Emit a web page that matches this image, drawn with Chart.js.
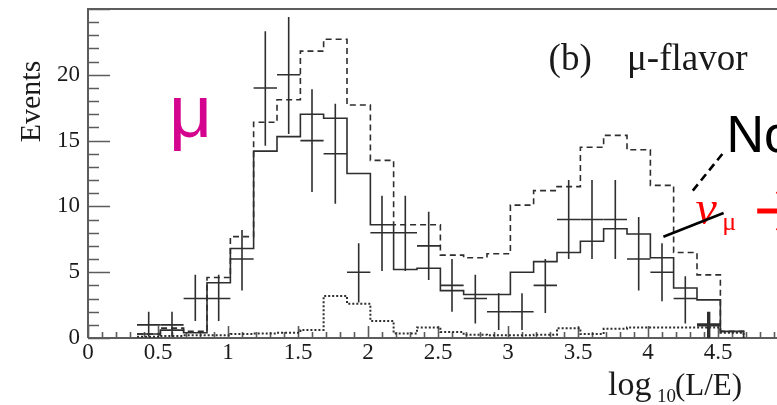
<!DOCTYPE html>
<html>
<head>
<meta charset="utf-8">
<script src="https://cdn.jsdelivr.net/npm/chart.js@4.4.1/dist/chart.umd.min.js"></script>
<style>
  html, body { margin: 0; padding: 0; background: #fff; overflow: hidden; }
  #wrap { position: relative; width: 800px; height: 405px; }
</style>
</head>
<body>
<div id="wrap"><canvas id="c" width="800" height="405"></canvas></div>
<script>
// log10(L/E) bin edges (width 1/6)
const binEdges = [0.35, 0.517, 0.683, 0.85, 1.017, 1.183, 1.35, 1.517, 1.683, 1.85,
  2.017, 2.183, 2.35, 2.517, 2.683, 2.85, 3.017, 3.183, 3.35, 3.517, 3.683, 3.85,
  4.017, 4.183, 4.35, 4.517, 4.683];

// Observed events per bin, with the ends of the error bars
const dataCounts = [1, 1, 3, 3, 6, 19, 20, 15, 14, 5, 8, 8, 7, 4, 3, 2, 2, 4, 9, 9, 9, 6, 5, 3, 1];
const dataHigh = [2.0, 2.0, 4.8, 4.8, 8.2, 23.3, 24.4, 18.9, 17.8, 7.2, 10.8, 10.8, 9.6, 6.0,
  4.8, 3.4, 3.4, 6.0, 12.0, 12.0, 12.0, 9.2, 7.2, 4.7, 2.0];
const dataLow = [0.1, 0.1, 1.3, 1.3, 3.6, 14.6, 15.5, 11.1, 10.2, 2.7, 5.1, 5.1, 4.4, 2.0,
  1.1, 0.6, 0.6, 1.9, 6.0, 6.0, 6.0, 3.6, 2.8, 1.1, 0.0];

// Expectation with oscillation (solid)
const oscExpected = [0.3, 0.6, 0.4, 4.2, 6.8, 14.2, 15.3, 17.0, 16.7, 12.5, 8.6, 5.2, 5.3,
  3.6, 3.3, 3.3, 5.0, 5.8, 6.5, 7.35, 8.3, 7.9, 6.1, 3.8, 2.9, 0.5];
// Expectation without oscillation (dashed)
const noOscExpected = [0.3, 0.75, 0.5, 4.6, 7.7, 16.4, 18.1, 21.8, 22.7, 17.7, 13.5, 8.6, 8.6,
  6.3, 6.1, 6.4, 10.1, 11.2, 11.5, 14.5, 15.4, 14.3, 11.6, 6.5, 4.8, 0.5];
// Background component (dotted)
const background = [0.1, 0.15, 0.2, 0.2, 0.3, 0.35, 0.4, 0.6, 3.2, 2.6, 1.3, 0.35, 0.8,
  0.45, 0.25, 0.2, 0.2, 0.25, 0.75, 0.3, 0.7, 0.8, 0.8, 0.8, 0.8, 0.4];

// Axis ticks
const xTicks = [0, 0.5, 1, 1.5, 2, 2.5, 3, 3.5, 4, 4.5, 5];
const xTickLabels = ["0", "0.5", "1", "1.5", "2", "2.5", "3", "3.5", "4", "4.5", "5"];
const yTicks = [0, 5, 10, 15, 20];
const yTickLabels = ["0", "5", "10", "15", "20"];

const INK = '#2e2e2e';
const FRAME = '#5c5c5c';
const emphasisIndex = 24;   // last data cross drawn heavier

function histPoints(vals) {
  const pts = vals.map((v, i) => ({ x: binEdges[i], y: v }));
  pts.push({ x: binEdges[vals.length], y: 0 });
  return pts;
}

const decorations = {
  id: 'decorations',
  beforeDatasetsDraw(chart) {
    const { ctx, chartArea: a, scales: { x, y } } = chart;
    ctx.save();
    ctx.strokeStyle = FRAME;
    ctx.lineWidth = 2;
    ctx.beginPath();
    ctx.moveTo(a.left, a.bottom); ctx.lineTo(a.left, a.top);
    ctx.lineTo(a.right, a.top); ctx.lineTo(a.right, a.bottom);
    ctx.lineTo(a.left, a.bottom);
    ctx.stroke();
    // inward tick marks
    ctx.lineWidth = 1.6;
    ctx.beginPath();
    for (let k = 0; k <= 25; k++) {
      const py = Math.round(y.getPixelForValue(k)) + 0.5;
      const len = (k % 5 === 0) ? 22 : 11;
      ctx.moveTo(a.left, py); ctx.lineTo(a.left + len, py);
    }
    for (let k = 0; k <= 50; k++) {
      const px = Math.round(x.getPixelForValue(k / 10)) + 0.5;
      const len = (k % 5 === 0) ? 12 : 6;
      ctx.moveTo(px, a.bottom); ctx.lineTo(px, a.bottom - len);
    }
    ctx.stroke();
    ctx.restore();
  },
  afterDatasetsDraw(chart) {
    const { ctx, chartArea: a, scales: { x, y } } = chart;
    ctx.save();
    ctx.strokeStyle = INK;
    // data crosses
    dataCounts.forEach((n, i) => {
      const x0 = x.getPixelForValue(binEdges[i]);
      const x1 = x.getPixelForValue(binEdges[i + 1]);
      const xc = (x0 + x1) / 2;
      ctx.lineWidth = (i === emphasisIndex) ? 3.4 : 1.6;
      ctx.beginPath();
      ctx.moveTo(x0, y.getPixelForValue(n)); ctx.lineTo(x1, y.getPixelForValue(n));
      ctx.moveTo(xc, y.getPixelForValue(dataHigh[i])); ctx.lineTo(xc, y.getPixelForValue(dataLow[i]));
      ctx.stroke();
    });

    // panel label
    ctx.fillStyle = '#1a1a1a';
    ctx.textBaseline = 'alphabetic';
    ctx.textAlign = 'left';
    ctx.font = '37px "Liberation Serif"';
    ctx.fillText('(b)', x.getPixelForValue(3.29), y.getPixelForValue(20.4));
    ctx.fillText('\u03bc-flavor', x.getPixelForValue(3.85), y.getPixelForValue(20.4));

    // magenta mu
    ctx.fillStyle = '#d4048f';
    ctx.font = '75px "Liberation Sans"';
    ctx.fillText('\u03bc', x.getPixelForValue(0.578), y.getPixelForValue(15.3));

    // "No ..." callout
    ctx.fillStyle = '#000';
    ctx.font = '52px "Liberation Sans"';
    ctx.fillText('No', x.getPixelForValue(4.56), y.getPixelForValue(14.1));

    ctx.fillStyle = '#ff0000';
    ctx.font = 'italic 48px "Liberation Serif"';
    ctx.fillText('\u03bd', x.getPixelForValue(4.34), y.getPixelForValue(8.7));
    ctx.font = '26px "Liberation Serif"';
    ctx.fillText('\u03bc', x.getPixelForValue(4.53), y.getPixelForValue(8.2));

    // red arrow
    ctx.strokeStyle = '#ff0000';
    ctx.lineWidth = 5;
    const ay = y.getPixelForValue(9.65);
    const ax0 = x.getPixelForValue(4.78), ax1 = x.getPixelForValue(5.07);
    const ahx = x.getPixelForValue(4.925);
    ctx.beginPath();
    ctx.moveTo(ax0, ay); ctx.lineTo(ax1, ay);
    ctx.moveTo(ahx, ay - 20); ctx.lineTo(ax1, ay); ctx.lineTo(ahx, ay + 20);
    ctx.stroke();

    // pointer lines
    ctx.strokeStyle = '#000';
    ctx.lineWidth = 2.6;
    ctx.setLineDash([8, 5]);
    ctx.beginPath();
    ctx.moveTo(x.getPixelForValue(4.32), y.getPixelForValue(11.2));
    ctx.lineTo(x.getPixelForValue(4.54), y.getPixelForValue(14.1));
    ctx.stroke();
    ctx.setLineDash([]);
    ctx.beginPath();
    ctx.moveTo(x.getPixelForValue(4.11), y.getPixelForValue(7.7));
    ctx.lineTo(x.getPixelForValue(4.54), y.getPixelForValue(9.5));
    ctx.stroke();

    // axis titles
    ctx.fillStyle = '#1a1a1a';
    ctx.textBaseline = 'middle';
    ctx.textAlign = 'center';
    ctx.font = '30px "Liberation Serif"';
    ctx.save();
    ctx.translate(a.left - 56, (a.top + a.bottom) / 2 - 72);
    ctx.rotate(-Math.PI / 2);
    ctx.fillText('Events', 0, 0);
    ctx.restore();

    ctx.textAlign = 'left';
    ctx.textBaseline = 'alphabetic';
    ctx.font = '34px "Liberation Serif"';
    const tx = a.left + 520, ty = a.bottom + 57;
    ctx.fillText('log', tx, ty);
    ctx.font = '19px "Liberation Serif"';
    ctx.fillText('10', tx + 49, ty + 7);
    ctx.font = '31px "Liberation Serif"';
    ctx.fillText('(L/E)', tx + 67, ty);
    ctx.restore();
  }
};

new Chart(document.getElementById('c'), {
  type: 'line',
  data: {
    datasets: [
      { label: 'no oscillation', data: histPoints(noOscExpected), stepped: 'before',
        borderColor: INK, borderWidth: 1.6, borderDash: [6, 4], pointRadius: 0, fill: false },
      { label: 'oscillation', data: histPoints(oscExpected), stepped: 'before',
        borderColor: INK, borderWidth: 1.6, pointRadius: 0, fill: false },
      { label: 'background', data: histPoints(background), stepped: 'before',
        borderColor: INK, borderWidth: 2, borderDash: [2, 2], pointRadius: 0, fill: false }
    ]
  },
  options: {
    responsive: false,
    animation: false,
    devicePixelRatio: 1,
    layout: { padding: { top: 9, right: 12, left: 0, bottom: 0 } },
    plugins: { legend: { display: false }, tooltip: { enabled: false } },
    scales: {
      x: {
        type: 'linear', min: 0, max: 5,
        grid: { display: false, drawTicks: false }, border: { display: false },
        afterBuildTicks: s => { s.ticks = xTicks.map(v => ({ value: v })); },
        afterFit: s => { s.height = 67; s.paddingLeft = 0; s.paddingRight = 0; },
        ticks: { autoSkip: false, maxRotation: 0, padding: 1, color: '#1a1a1a',
          font: { family: 'Liberation Serif', size: 23 },
          callback: (v, i) => xTickLabels[i] }
      },
      y: {
        type: 'linear', min: 0, max: 25,
        grid: { display: false, drawTicks: false }, border: { display: false },
        afterBuildTicks: s => { s.ticks = yTicks.map(v => ({ value: v })); },
        afterFit: s => { s.width = 88; s.paddingTop = 0; s.paddingBottom = 0; },
        ticks: { autoSkip: false, padding: 8, color: '#1a1a1a',
          font: { family: 'Liberation Serif', size: 23 },
          callback: (v, i) => yTickLabels[i] }
      }
    }
  },
  plugins: [decorations]
});
</script>
</body>
</html>
